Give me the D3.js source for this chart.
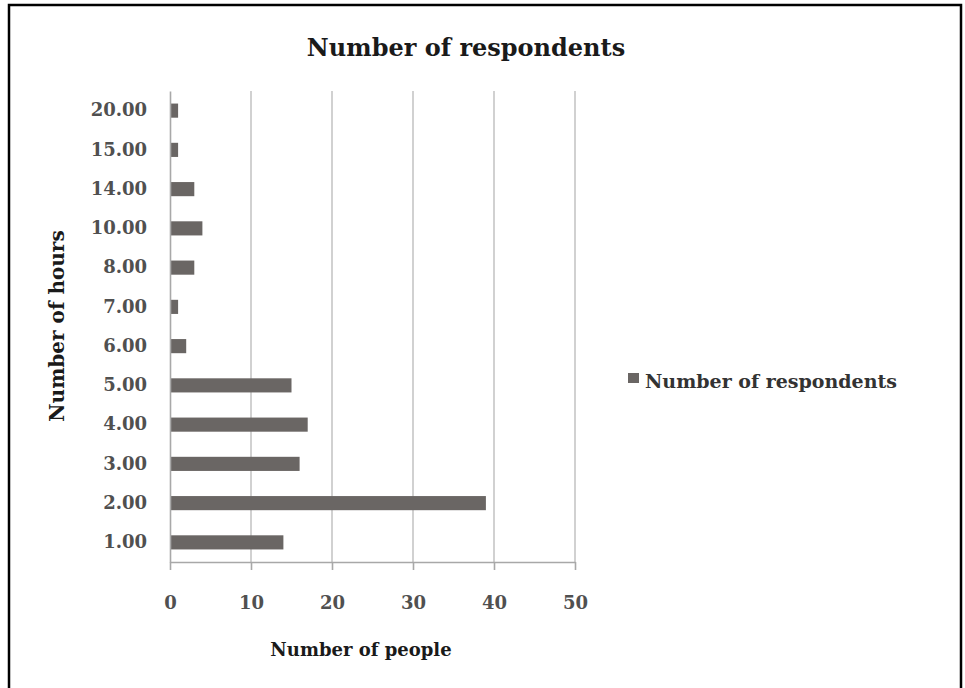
<!DOCTYPE html>
<html><head><meta charset="utf-8">
<script src="https://cdn.jsdelivr.net/npm/d3@7"></script>
<style>
html,body{margin:0;padding:0;background:#fff;}
svg{display:block;}
text{font-family:"DejaVu Serif","Liberation Serif",serif;}
</style></head>
<body>
<svg id="chart" width="965" height="688"></svg>
<script>
const categories = ["20.00","15.00","14.00","10.00","8.00","7.00","6.00","5.00","4.00","3.00","2.00","1.00"];
const respondents = [1,1,3,4,3,1,2,15,17,16,39,14];
const xTicks = [0,10,20,30,40,50];
const seriesName = "Number of respondents";

const svg = d3.select("#chart");
const W = 965, H = 688;
const m = {left:170, top:91, right:575, bottom:562};

svg.append("rect").attr("x",9).attr("y",5).attr("width",952).attr("height",H)
  .attr("fill","#fff").attr("stroke","#000").attr("stroke-width",2.5);

const x = d3.scaleLinear().domain([0,50]).range([m.left, m.right]);
const y = d3.scaleBand().domain(categories).range([m.top, m.bottom]).paddingInner(0.64).paddingOuter(0.32);

// gridlines
svg.append("g").selectAll("line").data(xTicks.slice(1)).join("line")
  .attr("x1",d=>x(d)).attr("x2",d=>x(d)).attr("y1",m.top).attr("y2",m.bottom)
  .attr("stroke","#c6c6c6").attr("stroke-width",1.6);

// bars
svg.append("g").selectAll("rect").data(categories).join("rect")
  .attr("x",x(0)).attr("y",d=>y(d)).attr("height",y.bandwidth())
  .attr("width",(d,i)=>x(respondents[i])-x(0))
  .attr("fill","#6a6664");

// x axis
const xAxis = svg.append("g").attr("transform",`translate(0,${m.bottom})`)
  .call(d3.axisBottom(x).tickValues(xTicks).tickSize(8).tickPadding(26).tickSizeOuter(0));
xAxis.select(".domain").attr("stroke","#a8a8a8").attr("stroke-width",1.6);
xAxis.selectAll(".tick line").attr("stroke","#a8a8a8").attr("stroke-width",1.6);
xAxis.selectAll("text").attr("font-size",18).attr("fill","#505050")
  .attr("font-family","DejaVu Serif").attr("font-weight","bold");

// y axis
const yAxis = svg.append("g").attr("transform",`translate(${m.left},0)`)
  .call(d3.axisLeft(y).tickSize(0).tickPadding(23).tickSizeOuter(0));
yAxis.select(".domain").attr("stroke","#a8a8a8").attr("stroke-width",1.6);
yAxis.selectAll("text").attr("font-size",18).attr("fill","#505050")
  .attr("font-family","DejaVu Serif").attr("font-weight","bold");

// title
svg.append("text").attr("x",466).attr("y",56).attr("text-anchor","middle")
  .attr("font-size",24).attr("font-weight","bold").attr("fill","#1a1a1a")
  .text("Number of respondents");

// axis titles
svg.append("text").attr("x",361).attr("y",656).attr("text-anchor","middle")
  .attr("font-size",18).attr("font-weight","bold").attr("fill","#1a1a1a")
  .text("Number of people");
svg.append("text").attr("transform","translate(64,326) rotate(-90)").attr("text-anchor","middle")
  .attr("font-size",20).attr("font-weight","bold").attr("fill","#1a1a1a")
  .text("Number of hours");

// legend
const lg = svg.append("g");
lg.append("rect").attr("x",628).attr("y",373).attr("width",11).attr("height",10).attr("fill","#6a6664");
lg.append("text").attr("x",645).attr("y",388).attr("font-size",19).attr("font-weight","bold").attr("fill","#333")
  .text(seriesName);
</script>
</body></html>
